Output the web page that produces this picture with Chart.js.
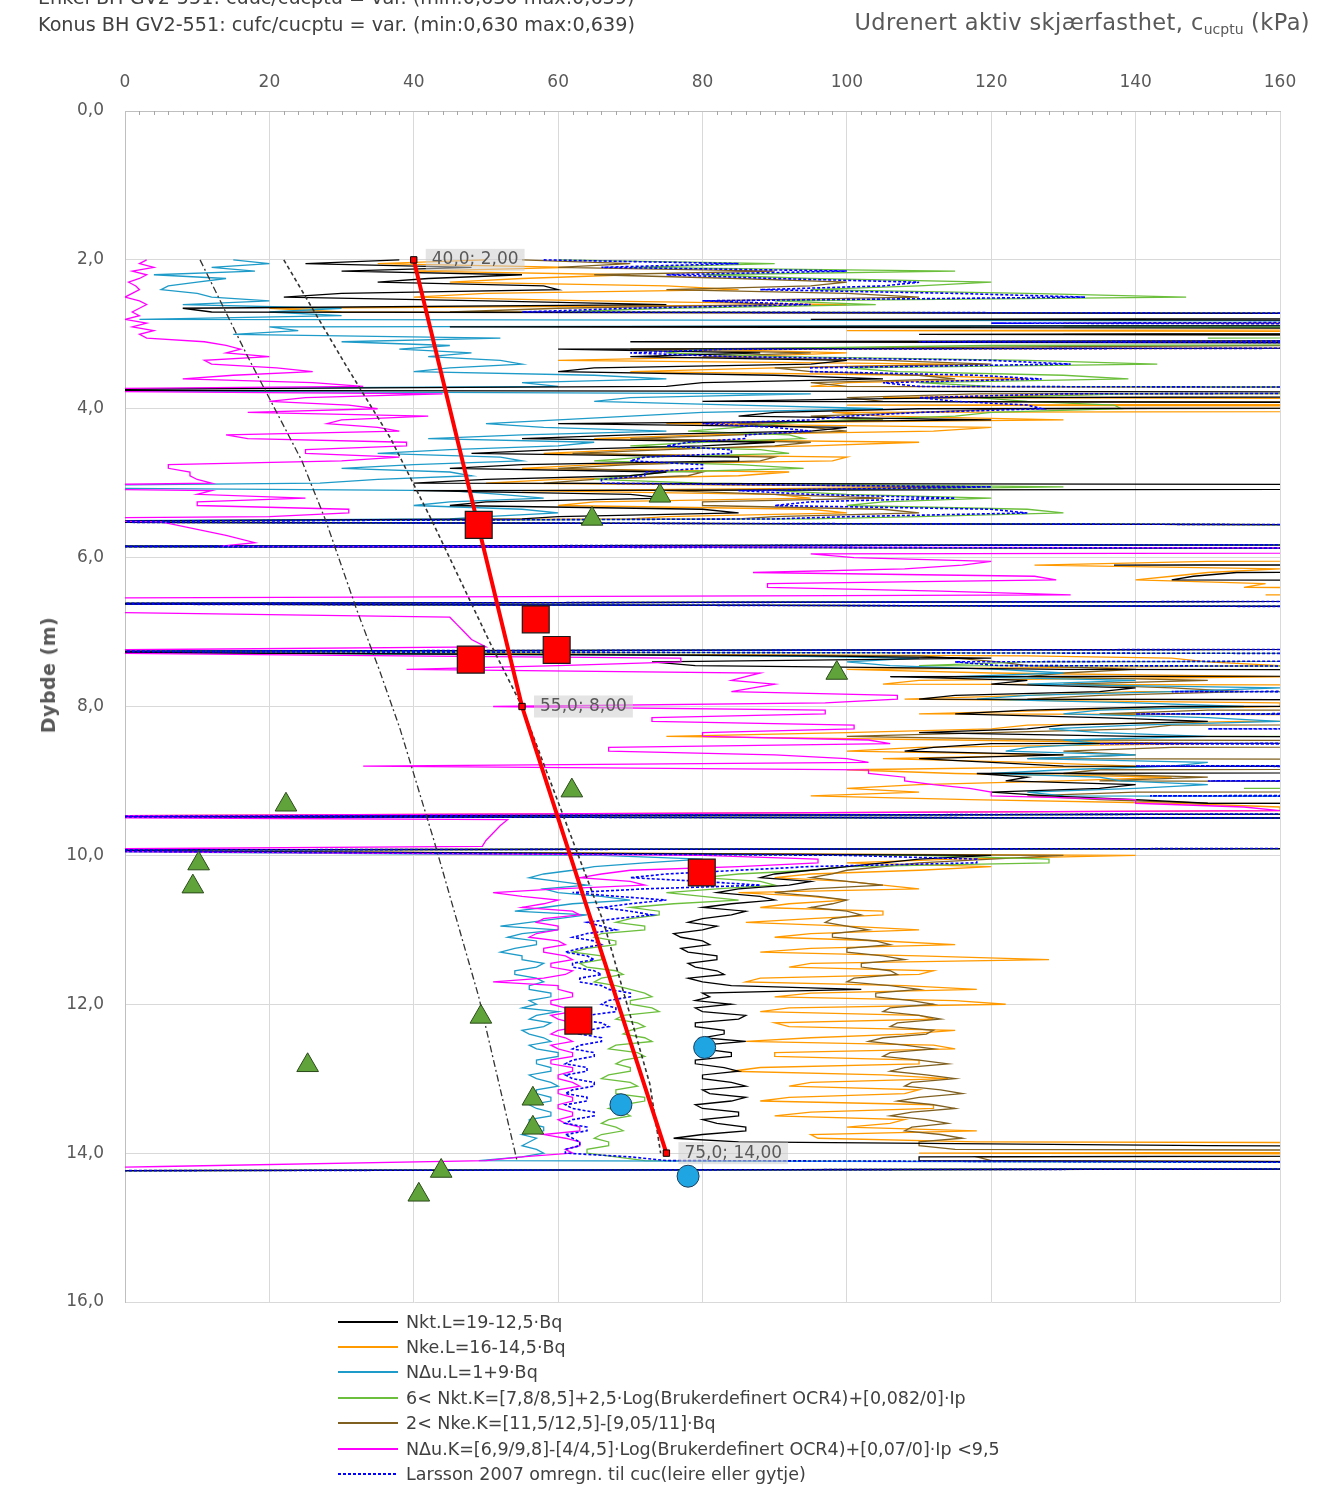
<!DOCTYPE html>
<html lang="no">
<head>
<meta charset="utf-8">
<title>Udrenert aktiv skjærfasthet</title>
<script src="https://cdn.jsdelivr.net/npm/chart.js@4.4.1/dist/chart.umd.min.js"></script>
<style>
  body { margin: 0; background: #fff; }
  #side { position: relative; width: 1335px; height: 1488px; overflow: hidden; font-family: "DejaVu Sans", sans-serif; }
  #figur { position: absolute; left: 0; top: 0; }
  .tekst { position: absolute; white-space: nowrap; color: #404040; line-height: 24px; }
  #topp1 { left: 38px; top: -14px; font-size: 19.2px; }
  #topp2 { left: 38px; top: 13px; font-size: 19.2px; }
  #tittel { right: 25px; top: 8px; font-size: 22.5px; letter-spacing: 0.4px; color: #595959; line-height: 28px; }
  #tittel sub { font-size: 14px; vertical-align: -4px; letter-spacing: 0; }
  #ytittel { left: 48px; top: 675px; transform: translate(-50%, -50%) rotate(-90deg); font-size: 19px; letter-spacing: 0.5px; font-weight: bold; color: #595959; }
  #forklaring { position: absolute; left: 338px; top: 1309px; font-family: "DejaVu Sans", sans-serif; font-size: 17.5px; color: #404040; }
  .rad { height: 25.4px; display: flex; align-items: center; white-space: nowrap; }
  .strek { width: 60px; height: 2px; margin-right: 8px; }
</style>
</head>
<body>
<div id="side">
  <canvas id="figur" width="1335" height="1488"></canvas>
  <div class="tekst" id="topp1">Enkel BH GV2-551: cuuc/cucptu = var. (min:0,630 max:0,639)</div>
  <div class="tekst" id="topp2">Konus BH GV2-551: cufc/cucptu = var. (min:0,630 max:0,639)</div>
  <div class="tekst" id="tittel">Udrenert aktiv skjærfasthet, c<sub>ucptu</sub> (kPa)</div>
  <div class="tekst" id="ytittel">Dybde (m)</div>
  <div id="forklaring"></div>
</div>
<script>
// dybder (m) felles for alle CPTU-tolkningene
const dybde = [
  2.00, 2.05, 2.10, 2.15, 2.20, 2.25, 2.30, 2.35, 2.40, 2.45, 2.50, 2.55, 2.60, 2.65, 2.70,
  2.75, 2.80, 2.85, 2.90, 2.95, 3.00, 3.05, 3.10, 3.15, 3.20,
  3.25, 3.30, 3.35, 3.40, 3.45, 3.50, 3.55, 3.60, 3.65, 3.70, 3.75, 3.80, 3.85, 3.90, 3.95, 4.00, 4.05, 4.10, 4.15, 4.20,
  4.25, 4.30, 4.35, 4.40, 4.45, 4.50, 4.55, 4.60, 4.65, 4.70, 4.75, 4.80, 4.85, 4.90, 4.95, 5.00, 5.05, 5.10, 5.15, 5.20,
  5.25, 5.30, 5.35, 5.40, 5.45, 5.48, 5.52, 5.60, 5.70, 5.80, 5.85,
  5.90, 5.95, 6.00, 6.05, 6.10, 6.15, 6.20, 6.25, 6.30, 6.35, 6.40, 6.45, 6.50, 6.55, 6.62, 6.70,
  6.80, 6.90, 7.00, 7.10, 7.20, 7.26,
  7.32, 7.35, 7.40, 7.45, 7.50, 7.55, 7.60, 7.65, 7.70, 7.75, 7.80, 7.85, 7.90, 7.95, 8.00, 8.05, 8.10, 8.15, 8.20, 8.25,
  8.30, 8.35, 8.40, 8.45, 8.50, 8.55, 8.60, 8.65, 8.70, 8.75, 8.80, 8.85, 8.90, 8.95, 9.00, 9.05, 9.10, 9.15, 9.20, 9.25,
  9.30, 9.35, 9.40, 9.48, 9.52, 9.60, 9.70, 9.80, 9.88, 9.93,
  10.00, 10.05, 10.10, 10.15, 10.20, 10.25, 10.30, 10.35, 10.40, 10.45, 10.50, 10.55, 10.60, 10.65, 10.70, 10.75, 10.80, 10.85, 10.90, 10.95,
  11.00, 11.05, 11.10, 11.15, 11.20, 11.25, 11.30, 11.35, 11.40, 11.45, 11.50, 11.55, 11.60, 11.65, 11.70, 11.75, 11.80, 11.85, 11.90, 11.95,
  12.00, 12.05, 12.10, 12.15, 12.20, 12.25, 12.30, 12.35, 12.40, 12.45, 12.50, 12.55, 12.60, 12.65, 12.70, 12.75, 12.80, 12.85, 12.90, 12.95,
  13.00, 13.05, 13.10, 13.15, 13.20, 13.25, 13.30, 13.35, 13.40, 13.45, 13.50, 13.55, 13.60, 13.65, 13.70, 13.75, 13.80, 13.85, 13.90, 13.95,
  14.00, 14.05, 14.10, 14.18, 14.24
];

// cucptu (kPa) - verdier utenfor 0-160 klippes av aksen
const nktL = [
  38, 25, 48, 30, 55, 42, 35, 58, 60, 30, 22, 50, 75, 8, 12,
  400, 95, 400, 45, 400, 110, 400, 70, 400, 60,
  88, 70, 100, 95, 65, 60, 90, 105, 80, 75, -30, 400, 115, 80, 400, 110, 90, 85, 120, 60,
  100, 95, 70, 55, 90, 80, 60, 48, 85, 85, 55, 45, 75, 70, 50, 40, 400, 40, 70, 75,
  50, 45, 80, 85, 60, 55, -30, 400, 400, 400, -30,
  400, 400, 400, 400, 137, 400, 154, 148, 145, 400, 400, 400, 400, 400, -30, 400,
  400, 400, 400, 400, 400, -30,
  95, 120, 73, 79, 130, 400, 106, 125, 120, 140, 135, 115, 110, 400, 145, 125, 115, 135, 150, 130,
  125, 110, 140, 400, 120, 112, 108, 130, 110, 120, 130, 400, 118, 125, 122, 140, 135, 120, 128, 140,
  150, 400, 400, -30, 400, 400, 400, 400, 400, -30,
  120, 110, 105, 100, 95, 90, 88, 95, 92, 85, 82, 88, 90, 84, 80, 86, 84, 80, 78, 82,
  80, 76, 77, 80, 81, 77, 78, 82, 82, 78, 79, 82, 83, 78, 80, 84, 102, 80, 81, 79,
  84, 79, 80, 86, 85, 79, 79, 83, 83, 80, 86, 80, 80, 84, 84, 79, 79, 83, 85, 80,
  80, 84, 86, 80, 81, 86, 84, 79, 80, 85, 85, 80, 82, 86, 86, 80, 76, 85, 150, 400,
  400, 110, 110, 400, -30
];
const nkeL = [
  50, 35, 62, 40, 70, 55, 45, 75, 85, 50, 40, 65, 100, 20, 30,
  400, 400, 130, 400, 100, 400, 400, 140, 400, 80,
  100, 85, 60, 115, 90, 70, 110, 125, 100, 95, 400, 140, 105, 400, 100, 400, 98, 105, 130, 75,
  120, 112, 80, 65, 110, 95, 70, 58, 100, 98, 65, 55, 92, 85, 60, 50, 120, 55, 90, 95,
  65, 60, 95, 100, 75, 70, -30, 400, 400, 400, -30,
  400, 400, 400, 150, 126, 160, 150, 145, 140, 158, 155, 400, 158, 400, -30, 400,
  400, 400, 400, 400, 400, -30,
  125, 145, 150, 160, 100, 120, 160, 110, 105, 400, 140, 125, 108, 160, 160, 130, 110, 400, 155, 125,
  120, 100, 75, 115, 150, 110, 100, 130, 105, 125, 140, 100, 115, 145, 130, 110, 100, 110, 95, 117,
  145, 160, 160, -30, 400, 400, 400, 400, 400, -30,
  140, 115, 100, 120, 110, 95, 90, 100, 105, 110, 85, 95, 100, 92, 88, 105, 105, 95, 86, 100,
  110, 95, 90, 105, 115, 95, 88, 110, 128, 95, 92, 112, 110, 88, 86, 108, 118, 95, 90, 115,
  122, 92, 88, 110, 112, 90, 92, 115, 108, 95, 86, 112, 115, 90, 90, 110, 110, 88, 84, 105,
  114, 95, 92, 110, 108, 92, 88, 112, 112, 95, 90, 108, 106, 100, 118, 95, 96, 118, 400, 400,
  110, 400, 400, 400, -30
];
const nduL = [
  15, 20, 12, 18, 4, 14, 10, 6, 5, 10, 12, 20, 8, 30, 20,
  30, 2, 400, 20, 24, 15, 52, 30, 45, 38,
  48, 42, 52, 55, 45, 40, 65, 75, 55, 60, -30, 95, 70, 65, 85, 105, 80, 70, 60, 50,
  58, 75, 55, 42, 65, 60, 45, 35, 52, 55, 40, 30, 45, 48, 35, 27, -30, 45, 52, 58,
  45, 40, 55, 60, 50, 45, -30, 400, 400, 400, -30,
  400, 400, 400, 400, 400, 400, 400, 400, 400, 400, 400, 400, 400, 400, -30, 400,
  400, 400, 400, 400, 400, -30,
  89, 110, 100, 106, 121, 130, 115, 140, 125, 160, 145, 125, 118, 140, 155, 135, 130, 150, 160, 140,
  128, 135, 150, 130, 135, 125, 122, 140, 125, 150, 145, 130, 120, 135, 138, 150, 140, 125, 130, 400,
  400, 400, 400, -30, 400, 400, 400, 400, 400, -30,
  66, 80, 72, 65, 62, 58, 56, 60, 64, 58, 60, 66, 70, 62, 58, 54, 64, 60, 56, 52,
  60, 55, 53, 57, 57, 54, 52, 55, 55, 58, 57, 54, 54, 57, 58, 56, 56, 59, 59, 56,
  57, 55, 60, 57, 56, 59, 58, 55, 56, 58, 59, 56, 57, 60, 60, 57, 57, 59, 59, 56,
  57, 59, 60, 57, 57, 59, 59, 56, 57, 59, 59, 56, 56, 58, 58, 55, 57, 56, 55, 57,
  58, 55, 49, 400, -30
];
const nktK = [
  60, 90, 70, 115, 80, 95, 120, 110, 95, 125, 147, 90, 104, 75, 60,
  400, 160, 400, 130, 400, 400, 150, 400, 120, 80,
  75, 91, 125, 143, 100, 107, 130, 139, 110, 120, 400, 139, 118, 125, 137, 138, 120, 115, 100, 90,
  85, 78, 92, 94, 80, 70, 88, 92, 72, 65, 85, 94, 75, 70, 65, 80, 130, 90, 100, 120,
  105, 100, 125, 130, 110, 95, -30, 400, 400, 400, -30,
  400, 400, 400, 400, 400, 400, 400, 400, 400, 400, 400, 400, 400, 400, -30, 400,
  400, 400, 400, 400, 400, -30,
  400, 400, 125, 110, 400, 400, 400, 400, 400, 400, 150, 400, 400, 400, 400, 400, 145, 400, 400, 400,
  400, 400, 150, 400, 400, 400, 400, 400, 400, 400, 150, 400, 400, 400, 400, 400, 155, 400, 400, 400,
  400, 400, 400, -30, 400, 400, 400, 400, 400, -30,
  110, 128, 128, 100, 95, 85, 80, 88, 90, 82, 75, 80, 85, 76, 70, 74, 74, 70, 68, 72,
  72, 66, 65, 68, 68, 64, 62, 66, 66, 63, 64, 68, 69, 66, 65, 68, 70, 72, 73, 70,
  70, 73, 74, 69, 68, 71, 72, 70, 69, 72, 73, 68, 67, 71, 72, 69, 68, 70, 70, 67,
  66, 70, 71, 68, 68, 72, 72, 69, 67, 69, 70, 67, 66, 68, 69, 66, 65, 67, 67, 64,
  64, 68, 72, 400, -30
];
const nkeK = [
  55, 70, 60, 90, 65, 85, 100, 95, 75, 100, 110, 80, 90, 60, 45,
  400, 400, 400, 150, 400, 130, 400, 400, 160, 70,
  95, 80, 105, 120, 90, 95, 110, 115, 95, 100, 400, 118, 100, 105, 400, 122, 110, 95, 105, 85,
  95, 100, 85, 70, 95, 90, 75, 62, 90, 88, 70, 60, 80, 78, 65, 58, 120, 75, 90, 105,
  80, 80, 105, 110, 90, 85, -30, 400, 400, 400, -30,
  400, 400, 400, 400, 400, 400, 400, 400, 400, 400, 400, 400, 400, 400, -30, 400,
  400, 400, 400, 400, 400, -30,
  110, 115, 121, 125, 140, 130, 125, 150, 130, 145, 155, 135, 125, 400, 400, 150, 135, 400, 400, 145,
  140, 120, 100, 130, 400, 145, 130, 140, 125, 400, 400, 135, 130, 150, 135, 400, 400, 140, 125, 135,
  150, 400, 400, -30, 400, 400, 400, 400, 400, -30,
  130, 120, 110, 105, 100, 98, 95, 100, 105, 95, 90, 96, 100, 98, 95, 100, 102, 98, 97, 100,
  103, 98, 98, 104, 106, 100, 100, 105, 108, 102, 102, 106, 107, 101, 100, 106, 110, 104, 104, 109,
  112, 106, 105, 110, 113, 107, 106, 112, 111, 105, 103, 108, 112, 106, 105, 110, 114, 108, 106, 111,
  115, 109, 108, 113, 116, 110, 107, 112, 115, 109, 106, 111, 114, 109, 108, 113, 116, 110, 110, 115,
  400, 118, 120, 400, -30
];
const nduK = [
  3, 2, 4, 1, 3, 2, 0.5, 1.5, 2, 1, 0, 2, 3, 2, 1,
  2, 0, 3, 1, 4, 2, 3, 11, 14, 16,
  14, 20, 11, 12, 21, 26, 15, 8, 26, 33, -30, 44, 25, 20, 31, 35, 17, 42, 30, 28,
  35, 38, 14, 17, 39, 39, 25, 25, 38, 30, 6, 6, 9, 9, 10, 12, -30, 12, 10, 25,
  10, 10, 31, 31, 20, -30, 5, 9, 14, 18, 13,
  400, 95, 101, 120, 116, 108, 87, 126, 129, 89, 89, 113, 131, -30, -30, -30,
  45, 46, 47, 48, 50, -30,
  38, 77, 77, 60, 39, 88, 86, 84, 90, 87, 84, 107, 107, 97, 51, 97, 97, 73, 73, 101,
  101, 80, 80, 103, 106, 67, 67, 90, 100, 103, 33, 103, 103, 108, 108, 112, 117, 120, 120, 140,
  140, 155, 160, -30, 53, 52, 51, 50, 49.5, -30,
  80, 96, 96, 85, 70, 66, 63, 70, 72, 60, 51, 55, 60, 58, 55, 62, 63, 58, 57, 60,
  60, 57, 56, 60, 61, 58, 58, 61, 62, 59, 59, 62, 61, 58, 51, 60, 60, 62, 62, 59,
  59, 61, 62, 59, 60, 62, 63, 60, 59, 61, 62, 59, 60, 62, 62, 59, 59, 62, 62, 60,
  60, 62, 63, 60, 60, 62, 62, 60, 60, 62, 62, 60, 61, 63, 63, 58, 61, 63, 63, 61,
  62, 55, 50, 5, -30
];
const larsson = [
  58, 85, 66, 100, 75, 90, 110, 105, 88, 115, 133, 80, 95, 70, 55,
  400, 400, 120, 400, 400, 400, 400, 110, 400, 83,
  70, 84, 120, 131, 95, 95, 118, 127, 105, 110, 400, 130, 110, 115, 125, 127, 110, 100, 95, 80,
  90, 95, 86, 86, 78, 75, 84, 84, 72, 70, 80, 80, 72, 72, 66, 66, 120, 85, 95, 115,
  95, 90, 120, 125, 100, 90, -30, 400, 400, 400, -30,
  400, 400, 400, 400, 400, 400, 400, 400, 400, 400, 400, 400, 400, 400, -30, 400,
  400, 400, 400, 400, 400, -30,
  400, 400, 115, 121, 400, 400, 400, 400, 400, 400, 145, 400, 400, 400, 400, 400, 140, 400, 400, 400,
  150, 400, 400, 400, 135, 400, 400, 400, 400, 400, 140, 400, 400, 400, 150, 400, 400, 400, 142, 400,
  400, 400, 400, -30, 400, 400, 400, 400, 400, -30,
  100, 118, 118, 95, 85, 75, 70, 80, 88, 72, 62, 68, 75, 70, 66, 70, 73, 68, 64, 66,
  68, 64, 62, 65, 66, 63, 61, 64, 65, 62, 62, 65, 66, 63, 63, 66, 67, 70, 70, 67,
  66, 68, 68, 64, 62, 66, 67, 64, 63, 66, 66, 63, 62, 65, 65, 62, 61, 64, 64, 61,
  62, 65, 65, 62, 61, 64, 64, 61, 62, 65, 65, 62, 61, 64, 64, 61, 62, 63, 63, 61,
  61, 70, 75, 400, -30
];

// valgt profil (rød linje)
const profilVerdi = [40, 55, 75];
const profilDybde = [2.0, 8.0, 14.0];

// hjelpelinjer (svart stiplet)
const hjelp1Verdi = [10.4, 17, 24.5, 27.8, 32.1, 35.2, 38.1, 42.8, 49.0, 54.3];
const hjelp1Dybde = [2.0, 3.3, 4.7, 5.5, 6.7, 7.5, 8.3, 9.8, 11.9, 14.1];
const hjelp2Verdi = [22, 30.5, 36.8, 42.5, 50.6, 55, 66.3, 72.7, 74.2];
const hjelp2Dybde = [2.0, 3.4, 4.4, 5.5, 7.15, 8.0, 10.9, 13.07, 14.0];

// laboratorieverdier
const kvadratVerdi = [49.0, 56.9, 59.8, 47.9, 79.9, 62.8];
const kvadratDybde = [5.56, 6.83, 7.24, 7.37, 10.23, 12.22];
const trekantVerdi = [74.1, 64.7, 98.6, 61.9, 22.3, 10.2, 9.4, 49.3, 25.3, 56.5, 56.5, 43.8, 40.7];
const trekantDybde = [5.17, 5.48, 7.55, 9.13, 9.32, 10.11, 10.42, 12.17, 12.82, 13.27, 13.66, 14.24, 14.56];
const sirkelVerdi = [80.3, 68.7, 78.0];
const sirkelDybde = [12.58, 13.35, 14.31];

const xTicksMaks = 160;
const yTicksMaks = 16;

function punkter(verdier, dybder) {
  return verdier.map((v, i) => ({ x: v, y: dybder[i] }));
}
function komma(v, des) {
  return v.toFixed(des).replace('.', ',');
}

const serier = [
  { label: 'Nkt.L=19-12,5·Bq', data: nktL, farge: '#000000', strek: [], order: 5 },
  { label: 'Nke.L=16-14,5·Bq', data: nkeL, farge: '#ff9a00', strek: [], order: 9 },
  { label: 'NΔu.L=1+9·Bq', data: nduL, farge: '#1e9bc8', strek: [], order: 6 },
  { label: '6< Nkt.K=[7,8/8,5]+2,5·Log(Brukerdefinert OCR4)+[0,082/0]·Ip', data: nktK, farge: '#6cbf3c', strek: [], order: 7 },
  { label: '2< Nke.K=[11,5/12,5]-[9,05/11]·Bq', data: nkeK, farge: '#806020', strek: [], order: 8 },
  { label: 'NΔu.K=[6,9/9,8]-[4/4,5]·Log(Brukerdefinert OCR4)+[0,07/0]·Ip <9,5', data: nduK, farge: '#ff00ff', strek: [], order: 4 },
  { label: 'Larsson 2007 omregn. til cuc(leire eller gytje)', data: larsson, farge: '#0000ff', strek: [3, 2], order: 3 }
];

const datasets = [
  {
    label: 'kvadrat', type: 'scatter', data: punkter(kvadratVerdi, kvadratDybde), order: 0,
    pointStyle: 'rect', pointRadius: 19, pointBackgroundColor: '#ff0000', pointBorderColor: '#1a1a1a', pointBorderWidth: 1.2
  },
  {
    label: 'trekant', type: 'scatter', data: punkter(trekantVerdi, trekantDybde), order: 0,
    pointStyle: 'triangle', pointRadius: 12.5, pointBackgroundColor: '#5fa33a', pointBorderColor: '#2b4a1a', pointBorderWidth: 1
  },
  {
    label: 'sirkel', type: 'scatter', data: punkter(sirkelVerdi, sirkelDybde), order: 0,
    pointStyle: 'circle', pointRadius: 11, pointBackgroundColor: '#1fa6e2', pointBorderColor: '#1d3d5c', pointBorderWidth: 1
  },
  {
    label: 'profil', data: punkter(profilVerdi, profilDybde), order: 1,
    borderColor: '#ff0000', borderWidth: 4, pointStyle: 'rect', pointRadius: 4.5,
    pointBackgroundColor: '#ff0000', pointBorderColor: '#000000', pointBorderWidth: 1
  },
  {
    label: 'hjelp1', data: punkter(hjelp1Verdi, hjelp1Dybde), order: 2,
    borderColor: '#333333', borderWidth: 1.3, borderDash: [7, 3, 2, 3], pointRadius: 0
  },
  {
    label: 'hjelp2', data: punkter(hjelp2Verdi, hjelp2Dybde), order: 2,
    borderColor: '#333333', borderWidth: 1.6, borderDash: [4, 3], pointRadius: 0
  }
].concat(serier.map(s => ({
  label: s.label, data: punkter(s.data, dybde), order: s.order,
  borderColor: s.farge, borderWidth: s.strek.length ? 1.6 : 1.3, borderDash: s.strek,
  pointRadius: 0
})));

// tekst ved knekkpunktene i profilen
const profilEtiketter = {
  id: 'profilEtiketter',
  afterDatasetsDraw(chart) {
    const { ctx, scales } = chart;
    ctx.save();
    ctx.font = '17px "DejaVu Sans"';
    ctx.textBaseline = 'middle';
    profilVerdi.forEach((v, i) => {
      const px = scales.x.getPixelForValue(v);
      const py = scales.y.getPixelForValue(profilDybde[i]);
      const txt = komma(v, 1) + '; ' + komma(profilDybde[i], 2);
      const w = ctx.measureText(txt).width;
      ctx.fillStyle = 'rgba(205,205,205,0.55)';
      ctx.fillRect(px + 12, py - 11, w + 12, 22);
      ctx.fillStyle = '#595959';
      ctx.fillText(txt, px + 18, py);
    });
    ctx.restore();
  }
};

// små hjelpestreker langs øvre akse
const smaaStreker = {
  id: 'smaaStreker',
  beforeDatasetsDraw(chart) {
    const { ctx, scales, chartArea } = chart;
    ctx.save();
    ctx.strokeStyle = '#a6a6a6';
    ctx.lineWidth = 1;
    ctx.beginPath();
    for (let v = 2; v < xTicksMaks; v += 2) {
      if (v % 20 === 0) continue;
      const px = Math.round(scales.x.getPixelForValue(v)) + 0.5;
      ctx.moveTo(px, chartArea.top);
      ctx.lineTo(px, chartArea.top + 4);
    }
    ctx.stroke();
    ctx.restore();
  }
};

Chart.defaults.font.family = '"DejaVu Sans", sans-serif';

new Chart(document.getElementById('figur'), {
  type: 'line',
  data: { datasets },
  options: {
    responsive: false,
    animation: false,
    devicePixelRatio: 1,
    events: [],
    layout: { padding: { left: 0, top: 0, right: 55, bottom: 186 } },
    plugins: { legend: { display: false }, tooltip: { enabled: false } },
    scales: {
      x: {
        type: 'linear', position: 'top', min: 0, max: xTicksMaks,
        afterFit: s => { s.height = 111; },
        ticks: { stepSize: 20, color: '#595959', font: { size: 17 }, padding: 18 },
        grid: { color: '#d9d9d9', drawTicks: false },
        border: { color: '#bfbfbf' }
      },
      y: {
        type: 'linear', reverse: true, min: 0, max: yTicksMaks,
        afterFit: s => { s.width = 125; },
        ticks: { stepSize: 2, color: '#595959', font: { size: 17 }, padding: 21, callback: v => komma(v, 1) },
        grid: { color: '#d9d9d9', drawTicks: false },
        border: { color: '#bfbfbf' }
      }
    }
  },
  plugins: [smaaStreker, profilEtiketter]
});

// forklaring under diagrammet
const boks = document.getElementById('forklaring');
serier.forEach(s => {
  const rad = document.createElement('div');
  rad.className = 'rad';
  const strek = document.createElement('span');
  strek.className = 'strek';
  if (s.strek.length) {
    strek.style.background = 'repeating-linear-gradient(90deg, ' + s.farge + ' 0 3px, transparent 3px 5px)';
  } else {
    strek.style.background = s.farge;
  }
  const tekst = document.createElement('span');
  tekst.textContent = s.label;
  rad.appendChild(strek);
  rad.appendChild(tekst);
  boks.appendChild(rad);
});
</script>
</body>
</html>
